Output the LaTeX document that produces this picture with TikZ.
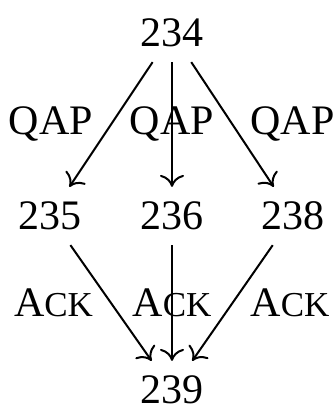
\documentclass[tikz,border=0pt]{standalone}
\usepackage{fontspec}
\setmainfont{Liberation Serif}
\usetikzlibrary{arrows.meta}
\newcommand{\ackmsg}{A{\fontsize{35}{40}\selectfont CK}}
\begin{document}
\begin{tikzpicture}[x=1pt,y=1pt,>={To[length=12pt,width=24pt]},
    font=\fontsize{42}{50}\selectfont,
    state/.style={inner sep=15pt,outer sep=0pt},
    tag/.style={inner sep=17pt},
    msg/.style={->,line width=2pt}]
        \useasboundingbox (0,0) rectangle (335,410);

        % the states
        \node[state] (s234) at (172,377) {234};
        \node[state] (s235) at (50,194) {235};
        \node[state] (s236) at (172,194) {236};
        \node[state] (s238) at (293,194) {238};
        \node[state] (s239) at (172,20) {239};

        % QAP from the top
        \draw[msg] (s234) -- node[tag,left] {QAP} (s235);
        \draw[msg] (s234) -- node {QAP} (s236);
        \draw[msg] (s234) -- node[tag,right] {QAP} (s238);

        % Ack to the bottom
        \draw[msg] (s235) -- node[tag,left] {\ackmsg} (s239);
        \draw[msg] (s236) -- node {\ackmsg} (s239);
        \draw[msg] (s238) -- node[tag,right] {\ackmsg} (s239);

\end{tikzpicture}
\end{document}
